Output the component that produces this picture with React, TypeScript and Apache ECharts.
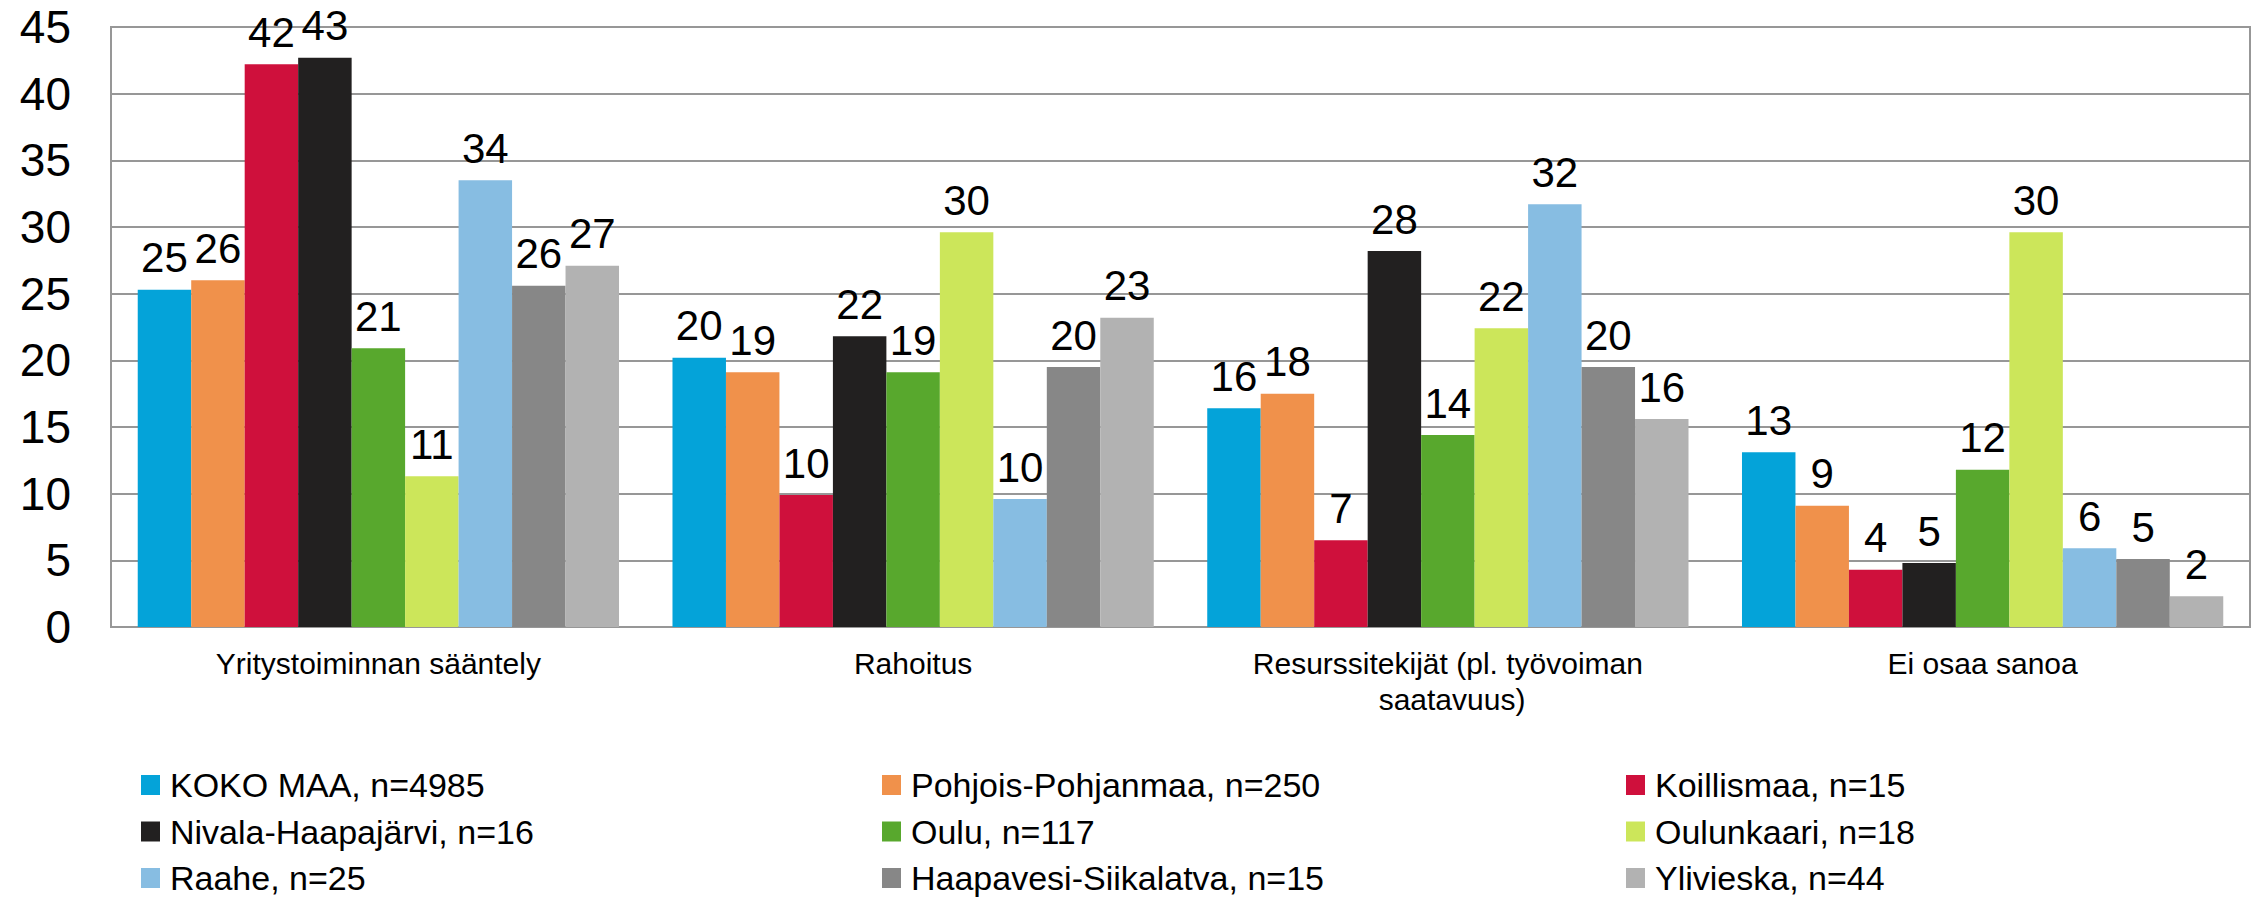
import React, { useEffect, useRef } from "react";
import * as echarts from "echarts";

const categories = [
  "Yritystoiminnan sääntely",
  "Rahoitus",
  "Resurssitekijät (pl. työvoiman saatavuus)",
  "Ei osaa sanoa",
];

const seriesNames = [
  "KOKO MAA, n=4985",
  "Pohjois-Pohjanmaa, n=250",
  "Koillismaa, n=15",
  "Nivala-Haapajärvi, n=16",
  "Oulu, n=117",
  "Oulunkaari, n=18",
  "Raahe, n=25",
  "Haapavesi-Siikalatva, n=15",
  "Ylivieska, n=44",
];

const kokoMaa = [25.3, 20.2, 16.4, 13.1];
const pohjoisPohjanmaa = [26.0, 19.1, 17.5, 9.1];
const koillismaa = [42.2, 9.9, 6.5, 4.3];
const nivalaHaapajarvi = [42.7, 21.8, 28.2, 4.8];
const oulu = [20.9, 19.1, 14.4, 11.8];
const oulunkaari = [11.3, 29.6, 22.4, 29.6];
const raahe = [33.5, 9.6, 31.7, 5.9];
const haapavesiSiikalatva = [25.6, 19.5, 19.5, 5.1];
const ylivieska = [27.1, 23.2, 15.6, 2.3];

const seriesValues = [
  kokoMaa,
  pohjoisPohjanmaa,
  koillismaa,
  nivalaHaapajarvi,
  oulu,
  oulunkaari,
  raahe,
  haapavesiSiikalatva,
  ylivieska,
];

const colors = [
  "#04a3d9",
  "#f0914b",
  "#cf103c",
  "#222020",
  "#58a82d",
  "#cce65a",
  "#87bde2",
  "#878787",
  "#b2b2b2",
];

const yTicks = { min: 0, max: 45, interval: 5 };

const FONT = "'Liberation Sans', Arial, Helvetica, sans-serif";
const GRID_COLOR = "#979797";

export default function App() {
  const ref = useRef<HTMLDivElement>(null);

  useEffect(() => {
    if (!ref.current) return;
    const chart = echarts.init(ref.current, undefined, { renderer: "svg" });

    const legendCol = (idx: number[], left: number) => ({
      data: idx.map((i) => seriesNames[i]),
      orient: "vertical",
      left,
      top: 768,
      height: 200,
      padding: 0,
      itemWidth: 19,
      itemHeight: 20,
      itemGap: 12.5,
      icon: "rect",
      selectedMode: false,
      textStyle: {
        fontSize: 34,
        lineHeight: 34,
        color: "#000",
        fontFamily: FONT,
        padding: [0, 0, 0, 5],
      },
    });

    chart.setOption({
      animation: false,
      textStyle: { fontFamily: FONT },
      color: colors,
      grid: {
        left: 111,
        right: 10,
        top: 27,
        bottom: 270,
        show: true,
        borderColor: GRID_COLOR,
        borderWidth: 2,
        containLabel: false,
      },
      legend: [
        legendCol([0, 3, 6], 141),
        legendCol([1, 4, 7], 882),
        legendCol([2, 5, 8], 1626),
      ],
      xAxis: {
        type: "category",
        data: categories,
        axisLine: { show: true, lineStyle: { color: GRID_COLOR, width: 2 } },
        axisTick: { show: false },
        axisLabel: {
          interval: 0,
          fontSize: 30,
          lineHeight: 36,
          color: "#000",
          fontFamily: FONT,
          margin: 18,
          width: 420,
          overflow: "break",
        },
      },
      yAxis: {
        type: "value",
        min: yTicks.min,
        max: yTicks.max,
        interval: yTicks.interval,
        axisLine: { show: true, lineStyle: { color: GRID_COLOR, width: 2 } },
        axisTick: { show: false },
        splitLine: { show: true, lineStyle: { color: GRID_COLOR, width: 2 } },
        axisLabel: {
          fontSize: 46,
          color: "#000",
          fontFamily: FONT,
          margin: 40,
        },
      },
      series: seriesValues.map((vals, i) => ({
        name: seriesNames[i],
        type: "bar",
        data: vals,
        barGap: "0%",
        barCategoryGap: "10%",
        itemStyle: { color: colors[i] },
        label: {
          show: true,
          position: "top",
          distance: 17,
          fontSize: 42,
          lineHeight: 30,
          color: "#000",
          fontFamily: FONT,
          formatter: (p: any) => String(Math.round(p.value)),
        },
      })),
    });

    return () => chart.dispose();
  }, []);

  return (
    <div
      ref={ref}
      style={{ position: "absolute", left: 0, top: 0, width: 2260, height: 897 }}
    />
  );
}
